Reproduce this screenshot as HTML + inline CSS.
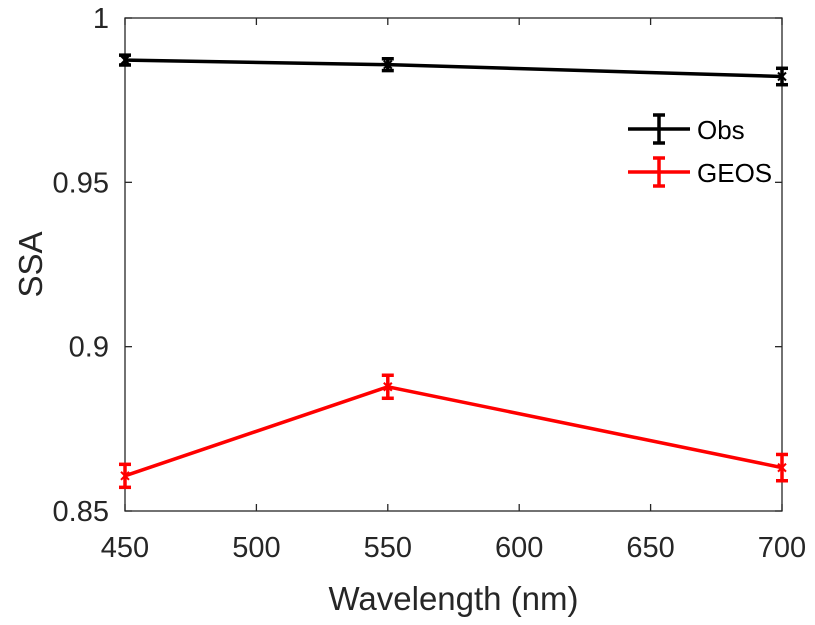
<!DOCTYPE html>
<html><head><meta charset="utf-8"><style>
body{margin:0;background:#fff;}
svg{display:block;font-family:"Liberation Sans",sans-serif;}
</style></head><body>
<svg id="chart" width="815" height="625"></svg>
<script>
const categories=[450,550,700];
const obsValues=[0.9872,0.9858,0.9822];
const obsErr=[0.0015,0.0018,0.0025];
const geosValues=[0.8607,0.8878,0.8632];
const geosErr=[0.0035,0.0035,0.004];
const xTicks=[450,500,550,600,650,700];
const yTicks=[0.85,0.9,0.95,1];
const yTickLabels=["0.85","0.9","0.95","1"];
const NS="http://www.w3.org/2000/svg";
const svg=document.getElementById('chart');
const L=125,R=782,T=18,B=511;
const xs=v=>L+(v-450)/(700-450)*(R-L);
const ys=v=>B-(v-0.85)/(1-0.85)*(B-T);
function mk(t,a,p){const e=document.createElementNS(NS,t);for(const k in a)e.setAttribute(k,a[k]);(p||svg).appendChild(e);return e;}
const box=mk('rect',{x:L,y:T,width:R-L,height:B-T,fill:'none',stroke:'#262626','stroke-width':1.3});


xTicks.forEach(v=>{
 const x=xs(v);
 mk('line',{x1:x,x2:x,y1:B,y2:B-7,stroke:'#262626','stroke-width':1.3});
 mk('line',{x1:x,x2:x,y1:T,y2:T+7,stroke:'#262626','stroke-width':1.3});
 const t=mk('text',{x:x,y:B+46,'text-anchor':'middle','font-size':29,fill:'#262626'});
 t.textContent=v;
 
 
});
yTicks.forEach((v,i)=>{
 const y=ys(v);
 mk('line',{x1:L,x2:L+7,y1:y,y2:y,stroke:'#262626','stroke-width':1.3});
 mk('line',{x1:R,x2:R-7,y1:y,y2:y,stroke:'#262626','stroke-width':1.3});
 const t=mk('text',{x:L-16,y:y+10,'text-anchor':'end','font-size':29,fill:'#262626'});
 t.textContent=yTickLabels[i];
 
 
});
const xl=mk('text',{x:(L+R)/2,y:610,'text-anchor':'middle','font-size':33,fill:'#262626'});
xl.textContent='Wavelength (nm)';


const yl=mk('text',{x:0,y:0,'text-anchor':'middle','font-size':33,fill:'#262626',transform:`translate(42,${(T+B)/2}) rotate(-90)`});
yl.textContent='SSA';


function series(vals,errs,color,name){
 const g=mk('g',{});
 
 
 mk('polyline',{points:vals.map((v,i)=>xs(categories[i])+','+ys(v)).join(' '),fill:'none',stroke:color,'stroke-width':3.5},g);
 vals.forEach((v,i)=>{
  const x=xs(categories[i]),y1=ys(v+errs[i]),y2=ys(v-errs[i]);
  const eb=mk('g',{},g);
  
  
  mk('line',{x1:x,x2:x,y1:y1,y2:y2,stroke:color,'stroke-width':3.5},eb);
  mk('line',{x1:x-6,x2:x+6,y1:y1,y2:y1,stroke:color,'stroke-width':3.5},eb);
  mk('line',{x1:x-6,x2:x+6,y1:y2,y2:y2,stroke:color,'stroke-width':3.5},eb);
  mk('path',{d:`M${x-4} ${ys(v)-4}L${x+4} ${ys(v)+4}M${x-4} ${ys(v)+4}L${x+4} ${ys(v)-4}`,stroke:color,'stroke-width':2},eb);
 });
}
series(obsValues,obsErr,'#000','obs');
series(geosValues,geosErr,'#ff0000','geos');
[['Obs','#000',129],['GEOS','#ff0000',172]].forEach(([n,c,y])=>{
 const g=mk('g',{});
 
 
 mk('line',{x1:628,x2:690,y1:y,y2:y,stroke:c,'stroke-width':3.5},g);
 mk('line',{x1:659,x2:659,y1:y-14,y2:y+14,stroke:c,'stroke-width':3.5},g);
 mk('line',{x1:653,x2:665,y1:y-14,y2:y-14,stroke:c,'stroke-width':3.5},g);
 mk('line',{x1:653,x2:665,y1:y+14,y2:y+14,stroke:c,'stroke-width':3.5},g);
 const t=mk('text',{x:697,y:y+10,'font-size':26,fill:'#000'},g);
 t.textContent=n;
});
</script>
</body></html>
